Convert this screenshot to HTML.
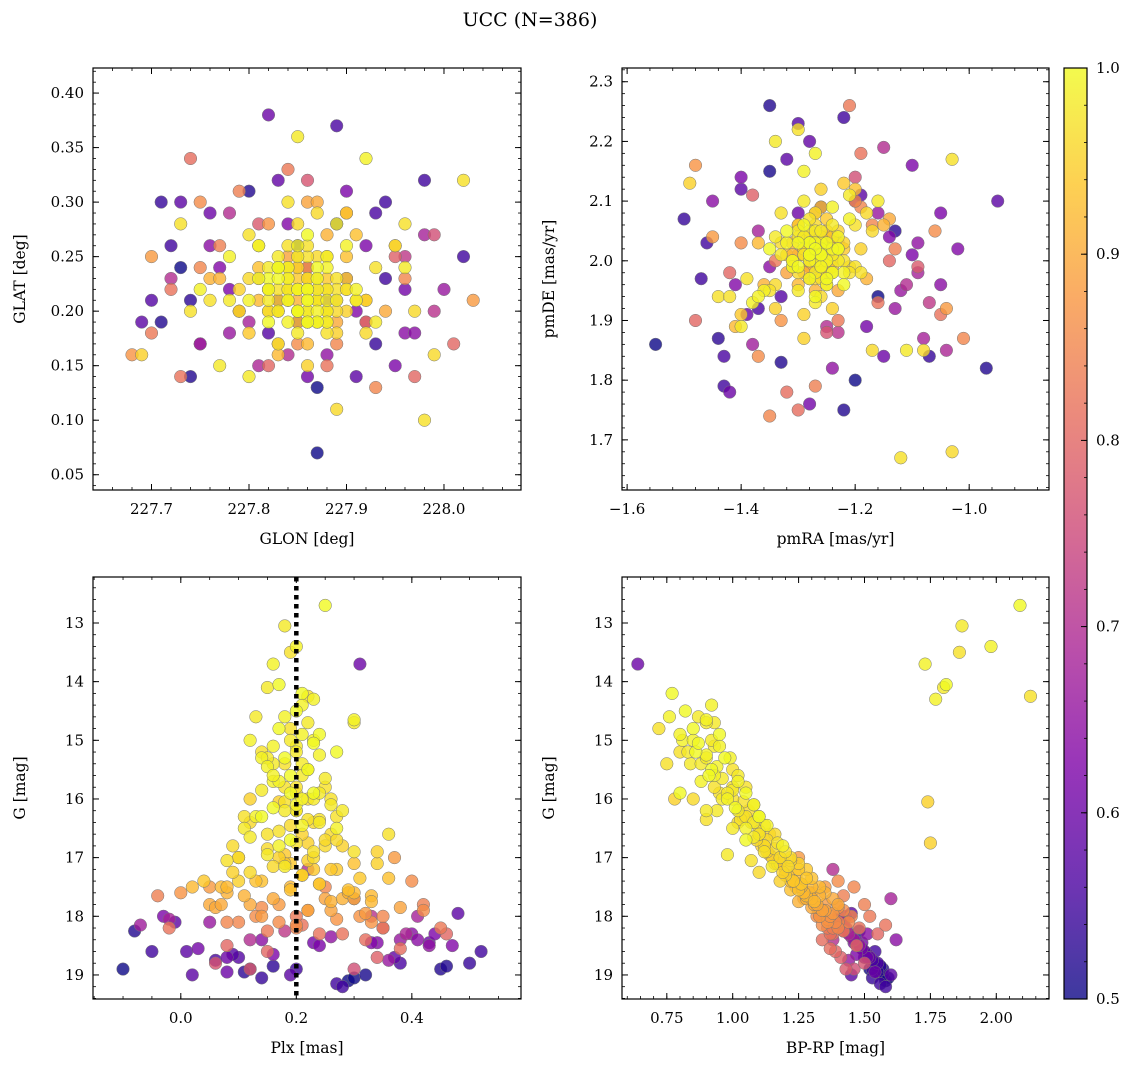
<!DOCTYPE html>
<html><head><meta charset="utf-8"><style>
html,body{margin:0;padding:0;background:#fff}
svg{display:block}
text{font-family:"DejaVu Serif","Liberation Serif",serif;fill:#000}
</style></head><body>
<svg id="chart" width="1136" height="1067" viewBox="0 0 1136 1067" xmlns="http://www.w3.org/2000/svg">
<text x="530" y="26" font-size="19" text-anchor="middle">UCC (N=386)</text>
</svg>
<script>
// star arrays: GLON, GLAT, pmRA, pmDE, Plx, G, BP-RP, membership probability
const glon=[227.86,227.84,227.88,227.82,227.90,227.87,227.83,227.89,227.80,227.86,227.85,227.91,227.84,227.82,227.88,227.87,227.85,227.81,227.93,227.86,227.84,227.89,227.83,227.87,227.78,227.90,227.85,227.88,227.82,227.86,227.84,227.91,227.87,227.83,227.89,227.85,227.80,227.88,227.86,227.84,227.92,227.82,227.87,227.85,227.79,227.90,227.83,227.88,227.86,227.84,227.95,227.81,227.87,227.76,227.89,227.85,227.73,227.97,227.98,227.89,227.69,228.02,227.85,227.77,227.96,227.80,227.92,227.74,227.99,227.86,
227.70,227.75,228.03,227.68,227.93,227.77,227.84,227.96,227.72,227.90,227.82,227.74,228.01,227.79,227.88,227.95,227.70,227.81,227.97,227.75,227.92,227.86,227.73,227.99,227.83,
227.87,227.98,227.71,227.73,227.82,227.89,227.74,227.90,227.70,228.02,227.93,227.84,227.78,227.96,227.76,227.91,227.80,227.86,227.94,227.72,227.88,227.83,227.99,227.78,227.92,227.75,227.85,227.96,
227.84,227.87,227.85,227.83,227.88,227.86,227.82,227.89,227.85,227.87,227.81,227.86,227.84,227.90,227.83,227.88,227.85,227.86,227.82,227.87,
227.85,227.89,227.84,227.86,227.80,227.88,227.85,227.83,227.87,227.86,227.91,227.84,227.86,227.82,227.88,227.85,227.87,227.83,227.86,227.89,
227.85,227.81,227.87,227.84,227.90,227.86,227.83,227.88,227.85,227.86,227.79,227.87,227.84,227.86,227.92,227.85,227.82,227.88,227.86,227.84,
227.87,227.85,227.83,227.89,227.86,227.81,227.88,227.85,227.87,227.84,227.86,227.90,227.83,227.85,227.88,227.82,227.86,227.87,227.84,227.85,
227.78,227.93,227.76,227.95,227.80,227.91,227.77,227.94,227.82,227.89,227.75,227.96,227.81,227.92,227.79,227.90,227.83,227.88,227.86,227.85,
227.72,227.95,227.80,228.00,227.69,227.87,227.77,227.93,227.84,227.74,227.98,227.82,227.90,227.71,227.86,227.79,227.96,227.75,227.89,227.83,227.92,227.78,227.85,227.97,227.73,227.88,227.81,227.94,227.76,227.91];
const glat=[0.22,0.24,0.21,0.20,0.26,0.19,0.25,0.23,0.21,0.27,0.18,0.22,0.30,0.23,0.25,0.21,0.20,0.26,0.24,0.19,0.22,0.28,0.17,0.24,0.21,0.20,0.26,0.22,0.19,0.25,0.23,0.21,0.29,0.24,0.18,0.22,0.27,0.20,0.23,0.26,0.21,0.24,0.19,0.28,0.22,0.25,0.20,0.23,0.17,0.24,0.26,0.21,0.30,0.23,0.19,0.25,0.28,0.20,0.10,0.11,0.16,0.32,0.36,0.15,0.28,0.14,0.34,0.20,0.16,0.15,
0.25,0.30,0.21,0.16,0.13,0.26,0.33,0.23,0.22,0.29,0.15,0.34,0.17,0.31,0.15,0.25,0.18,0.28,0.14,0.24,0.19,0.32,0.14,0.27,0.17,
0.07,0.32,0.19,0.30,0.38,0.37,0.14,0.31,0.21,0.25,0.17,0.28,0.18,0.22,0.26,0.14,0.19,0.24,0.30,0.23,0.16,0.21,0.20,0.29,0.26,0.17,0.19,0.18,
0.21,0.22,0.20,0.23,0.24,0.19,0.22,0.21,0.25,0.20,0.23,0.21,0.19,0.22,0.24,0.20,0.22,0.26,0.21,0.23,
0.20,0.22,0.24,0.21,0.23,0.19,0.22,0.20,0.25,0.22,0.21,0.23,0.20,0.22,0.18,0.24,0.21,0.22,0.23,0.20,
0.22,0.24,0.19,0.21,0.23,0.22,0.20,0.25,0.21,0.22,0.20,0.23,0.22,0.19,0.21,0.24,0.22,0.20,0.23,0.21,
0.22,0.20,0.24,0.21,0.22,0.23,0.19,0.22,0.21,0.25,0.20,0.22,0.21,0.23,0.22,0.20,0.24,0.21,0.22,0.19,
0.25,0.19,0.21,0.26,0.18,0.27,0.23,0.20,0.28,0.17,0.22,0.24,0.26,0.18,0.20,0.29,0.16,0.27,0.30,0.17,
0.26,0.15,0.31,0.22,0.19,0.13,0.24,0.29,0.16,0.21,0.27,0.18,0.23,0.30,0.14,0.20,0.25,0.17,0.28,0.32,0.19,0.22,0.26,0.18,0.24,0.21,0.15,0.23,0.29,0.20];
const pmra=[-1.26,-1.30,-1.22,-1.33,-1.25,-1.28,-1.24,-1.20,-1.31,-1.27,-1.29,-1.23,-1.26,-1.35,-1.21,-1.30,-1.25,-1.28,-1.19,-1.32,-1.27,-1.24,-1.29,-1.22,-1.34,-1.26,-1.31,-1.25,-1.28,-1.20,-1.36,-1.23,-1.27,-1.30,-1.24,-1.29,-1.21,-1.33,-1.26,-1.28,-1.19,-1.31,-1.25,-1.34,-1.22,-1.27,-1.29,-1.24,-1.32,-1.26,-1.18,-1.37,-1.23,-1.28,-1.30,-1.25,-1.44,-1.08,-1.12,-1.03,-1.49,-1.30,-1.34,-1.40,-1.03,-1.11,-1.27,-1.42,-1.17,-1.29,
-1.45,-1.37,-1.04,-1.48,-1.01,-1.13,-1.23,-1.35,-1.19,-1.06,-1.42,-1.30,-1.14,-1.27,-1.16,-1.38,-1.21,-1.09,-1.48,-1.17,-1.32,-1.25,-1.05,-1.20,-1.40,
-1.55,-1.43,-1.35,-0.95,-1.15,-1.43,-0.97,-1.10,-1.33,-1.22,-1.07,-1.41,-1.16,-1.28,-1.05,-1.19,-1.37,-1.13,-1.46,-1.25,-1.09,-1.30,-1.23,-1.11,-1.40,-1.08,-1.20,-1.35,
-1.27,-1.25,-1.29,-1.24,-1.28,-1.26,-1.30,-1.23,-1.27,-1.31,-1.25,-1.28,-1.26,-1.22,-1.29,-1.27,-1.24,-1.30,-1.26,-1.28,
-1.32,-1.25,-1.27,-1.23,-1.29,-1.26,-1.28,-1.24,-1.30,-1.27,-1.25,-1.29,-1.26,-1.21,-1.28,-1.27,-1.33,-1.25,-1.26,-1.29,
-1.24,-1.28,-1.27,-1.30,-1.25,-1.26,-1.22,-1.28,-1.27,-1.31,-1.26,-1.24,-1.29,-1.27,-1.25,-1.30,-1.28,-1.23,-1.26,-1.27,
-1.29,-1.25,-1.28,-1.26,-1.34,-1.24,-1.27,-1.30,-1.25,-1.28,-1.26,-1.27,-1.23,-1.29,-1.26,-1.31,-1.25,-1.28,-1.27,-1.24,
-1.38,-1.16,-1.35,-1.18,-1.40,-1.20,-1.36,-1.14,-1.33,-1.19,-1.37,-1.21,-1.39,-1.17,-1.34,-1.22,-1.41,-1.15,-1.32,-1.20,
-1.47,-1.05,-1.33,-1.12,-1.40,-1.20,-1.02,-1.37,-1.15,-1.44,-1.09,-1.30,-1.24,-1.50,-1.18,-1.35,-1.07,-1.42,-1.13,-1.28,-1.38,-1.10,-1.22,-1.45,-1.16,-1.32,-1.04,-1.26,-1.39,-1.14];
const pmde=[2.01,2.05,1.98,2.08,1.96,2.03,2.06,1.99,2.00,1.94,2.10,2.04,1.97,2.02,2.07,1.95,2.03,2.00,1.98,2.05,1.93,2.09,2.01,1.96,2.04,2.12,1.99,2.02,1.97,2.06,1.95,2.00,2.08,2.03,1.92,2.15,1.98,2.01,1.94,2.05,2.02,1.99,2.07,1.96,2.03,2.00,1.91,2.04,2.01,2.09,1.97,2.03,1.95,2.00,2.06,1.98,1.94,1.85,1.67,1.68,2.13,2.22,2.20,1.89,2.17,1.85,2.18,1.94,1.85,1.87,
2.04,1.84,1.92,2.16,1.87,2.02,1.90,1.74,2.18,2.05,1.98,1.75,2.00,1.79,1.93,2.11,2.26,1.99,1.90,2.06,1.78,1.88,1.91,2.14,2.03,
1.86,1.79,2.26,2.10,1.84,1.84,1.82,2.16,1.94,2.24,1.84,1.96,2.08,1.76,1.96,2.11,2.05,1.92,2.03,1.89,2.03,2.08,1.88,1.96,2.14,1.87,2.10,1.99,
2.02,2.00,2.04,1.98,2.01,2.03,1.99,2.02,2.05,2.00,1.97,2.03,2.01,2.00,2.06,1.98,2.02,2.04,1.99,2.01,
2.03,1.96,2.00,2.02,2.04,1.99,2.07,2.01,1.98,2.03,2.00,2.02,2.05,1.99,2.01,1.97,2.03,2.00,2.04,2.02,
1.98,2.01,2.03,2.06,2.00,1.99,2.02,2.04,1.95,2.01,2.03,2.00,1.98,2.02,2.05,2.01,1.99,2.03,2.00,2.08,
2.01,2.04,1.97,2.02,2.00,2.03,2.01,1.96,2.04,1.99,2.02,2.00,2.05,2.01,1.98,2.03,2.00,2.02,2.06,1.99,
1.93,2.10,1.95,2.08,1.91,2.12,1.96,2.07,1.90,2.09,1.94,2.11,1.97,2.05,1.92,2.13,1.89,2.06,1.98,2.10,
1.97,2.08,1.83,1.95,2.12,1.80,2.02,1.92,2.19,1.87,1.98,2.23,1.82,2.07,1.89,2.15,1.93,1.78,2.05,2.20,1.86,2.01,1.75,2.10,1.94,2.17,1.85,2.09,1.91,2.04];
const plx=[0.25,0.18,0.20,0.19,0.16,0.17,0.15,0.22,0.23,0.21,0.13,0.30,0.19,0.24,0.12,0.20,0.27,0.14,0.18,0.22,0.21,0.16,0.25,0.19,0.23,0.17,0.20,0.28,0.14,0.24,0.21,0.11,0.26,0.19,0.22,0.17,0.30,0.15,0.23,0.08,0.34,0.18,0.27,0.12,0.21,0.36,0.10,0.24,0.19,0.29,0.08,0.33,0.16,0.26,0.05,0.38,0.14,0.22,0.20,0.23,0.12,0.18,0.30,0.20,0.27,0.16,0.21,0.15,0.25,0.17,
0.05,0.42,0.37,0.00,0.35,-0.04,0.45,0.10,0.28,0.40,0.08,0.32,0.15,0.42,-0.02,0.34,0.20,0.12,0.46,0.25,0.38,0.06,0.21,0.30,0.14,
-0.10,0.52,-0.08,0.48,0.31,0.38,0.45,-0.03,0.10,0.27,0.14,0.34,0.05,0.23,0.40,0.19,-0.02,0.36,0.28,0.12,0.43,0.08,0.33,0.22,0.16,0.30,0.02,0.41,
0.20,0.18,0.22,0.17,0.21,0.19,0.23,0.16,0.20,0.24,0.18,0.21,0.15,0.22,0.19,0.25,0.17,0.20,0.14,0.23,
0.21,0.18,0.26,0.16,0.20,0.13,0.22,0.24,0.19,0.27,0.17,0.21,0.12,0.25,0.20,0.28,0.15,0.23,0.18,0.10,
0.22,0.30,0.16,0.26,0.09,0.21,0.31,0.14,0.24,0.07,0.19,0.29,0.11,0.25,0.33,0.17,0.06,0.22,0.32,0.13,
0.27,0.08,0.20,0.35,0.15,0.24,0.04,0.30,0.12,0.26,0.18,0.36,0.10,0.23,0.02,0.28,0.14,0.33,0.09,0.21,
0.16,0.24,0.11,0.27,0.19,0.13,0.29,0.07,0.31,0.20,0.23,0.15,0.26,0.12,0.34,0.18,0.08,0.30,0.22,0.17,
-0.05,0.44,0.12,0.38,-0.01,0.29,0.47,0.06,0.35,0.16,0.41,0.09,0.26,0.50,0.03,0.32,0.18,0.43,0.11,0.37,-0.07,0.24,0.46,0.14,0.30,0.01,0.39,0.20,0.08,0.33];
const gmag=[12.7,13.05,13.4,13.5,13.7,14.05,14.1,14.25,14.3,14.2,14.6,14.65,14.8,14.9,15.0,15.1,15.2,15.3,15.4,15.5,15.6,15.7,15.8,15.9,16.0,16.05,16.1,16.2,16.3,16.35,16.45,16.5,16.6,16.7,16.75,16.8,16.9,16.95,17.0,17.05,17.1,17.15,17.2,17.25,17.3,17.35,17.4,17.45,17.5,17.55,17.6,17.65,17.7,17.75,17.8,17.85,15.2,16.0,15.9,16.4,16.0,15.8,14.7,16.2,16.3,15.4,14.4,16.6,16.8,17.0,
17.5,17.9,17.0,17.6,18.0,17.65,18.2,18.1,18.3,17.4,18.5,18.4,18.6,17.8,18.2,18.7,18.0,18.9,18.3,17.5,18.55,18.8,18.15,18.9,17.85,
18.9,18.6,18.25,17.95,13.7,18.8,18.9,18.0,18.7,19.15,19.05,18.45,18.1,18.45,18.3,19.0,18.05,18.75,19.2,18.4,18.5,18.95,18.0,17.2,18.65,17.7,19.0,18.4,
14.5,14.6,14.7,14.8,14.9,15.0,15.05,15.1,15.2,15.25,15.3,15.4,15.45,15.5,15.6,15.65,15.7,15.8,15.85,15.9,
16.0,16.05,16.1,16.15,16.2,16.3,16.35,16.4,16.45,16.5,16.55,16.6,16.65,16.7,16.75,16.8,16.85,16.9,16.95,17.0,
17.05,17.1,17.15,17.2,17.25,17.3,17.35,17.4,17.45,17.5,17.55,17.6,17.65,17.7,17.75,17.8,17.85,17.9,17.95,18.0,
18.05,18.1,18.15,18.2,18.25,18.3,17.4,17.6,17.8,17.9,16.2,16.6,17.0,17.2,17.5,17.7,18.0,18.1,16.8,17.3,
15.6,15.9,16.3,16.7,17.1,17.4,17.6,17.8,18.0,18.2,15.0,15.3,16.0,16.4,16.9,17.1,17.5,17.7,17.9,18.1,
18.6,18.3,18.9,18.4,18.1,19.1,18.5,18.75,18.2,18.85,18.0,18.65,18.35,18.8,18.55,19.0,18.25,18.45,18.95,18.7,18.15,18.5,18.85,18.4,19.05,18.6,18.3,18.9,18.7,18.45];
const bprp=[2.09,1.87,1.98,1.86,1.73,1.81,1.80,2.13,1.77,0.77,0.87,0.90,0.72,0.95,0.81,0.93,0.86,0.99,0.75,0.92,1.02,0.88,1.05,0.80,0.96,1.74,1.08,0.94,1.10,0.90,1.13,1.00,1.16,1.05,1.75,1.19,1.12,0.98,1.22,1.07,1.25,1.15,1.28,1.10,1.20,1.30,1.18,1.26,1.33,1.22,1.35,1.28,1.38,1.25,1.40,1.32,0.80,0.85,0.95,1.02,0.78,1.00,0.93,0.90,1.04,0.84,0.92,1.10,1.12,1.18,
1.35,1.42,1.25,1.30,1.45,1.42,1.36,1.44,1.38,1.40,1.47,1.34,1.39,1.50,1.48,1.41,1.52,1.43,1.55,1.46,1.37,1.50,1.58,1.46,1.40,
1.52,1.54,1.48,1.45,0.64,1.55,1.57,1.43,1.50,1.56,1.53,1.46,1.42,1.49,1.51,1.60,1.40,1.44,1.58,1.38,1.48,1.54,1.33,1.38,1.47,1.60,1.45,1.62,
0.82,0.76,0.90,0.85,0.80,0.92,0.87,0.95,0.83,0.90,0.97,0.88,0.94,1.00,0.91,0.96,1.02,0.93,1.00,1.05,
0.98,1.04,1.08,1.01,1.06,1.10,1.03,1.08,1.12,1.05,1.10,1.14,1.08,1.13,1.17,1.11,1.16,1.20,1.14,1.18,
1.22,1.16,1.21,1.25,1.19,1.24,1.28,1.22,1.26,1.30,1.25,1.29,1.33,1.27,1.31,1.35,1.30,1.34,1.38,1.32,
1.36,1.40,1.34,1.38,1.42,1.37,1.23,1.27,1.31,1.35,1.02,1.10,1.15,1.20,1.24,1.28,1.33,1.36,1.12,1.21,
0.93,0.98,1.05,1.09,1.17,1.23,1.29,1.32,1.37,1.40,0.85,0.90,1.00,1.07,1.13,1.18,1.26,1.30,1.34,1.39,
1.50,1.44,1.55,1.46,1.41,1.58,1.48,1.53,1.43,1.56,1.40,1.51,1.45,1.54,1.49,1.57,1.42,1.47,1.55,1.52,1.42,1.48,1.56,1.46,1.59,1.50,1.44,1.53,1.51,1.47];
const prob=[1.0,0.98,0.99,0.97,0.99,1.0,0.98,0.97,0.99,1.0,0.98,0.99,0.97,1.0,0.99,0.98,1.0,0.99,0.97,1.0,0.98,0.99,0.97,1.0,0.98,0.95,0.99,0.98,1.0,0.97,0.99,0.98,0.96,1.0,0.95,0.99,0.97,0.98,0.96,0.97,0.95,0.98,0.94,0.96,0.95,0.93,0.95,0.94,0.92,0.93,0.91,0.92,0.90,0.91,0.90,0.89,0.97,0.96,0.97,0.96,0.95,0.97,0.98,0.98,0.97,0.98,0.99,0.97,0.96,0.95,
0.88,0.86,0.88,0.87,0.85,0.84,0.83,0.85,0.82,0.86,0.80,0.81,0.80,0.84,0.82,0.79,0.83,0.78,0.80,0.85,0.81,0.77,0.82,0.76,0.86,
0.5,0.55,0.52,0.58,0.60,0.56,0.52,0.62,0.57,0.55,0.54,0.63,0.66,0.61,0.64,0.58,0.68,0.66,0.55,0.70,0.65,0.60,0.71,0.70,0.62,0.68,0.58,0.64,
1.0,0.99,0.98,1.0,0.99,0.98,1.0,0.99,0.98,0.99,1.0,0.98,0.99,0.97,1.0,0.98,0.99,0.97,0.98,1.0,
0.99,0.97,0.98,1.0,0.96,0.99,0.97,0.98,0.96,0.99,0.97,0.95,0.98,0.96,0.97,0.95,0.96,0.97,0.94,0.96,
0.95,0.93,0.96,0.94,0.95,0.92,0.94,0.93,0.91,0.92,0.93,0.90,0.91,0.89,0.92,0.88,0.90,0.87,0.88,0.86,
0.87,0.85,0.86,0.84,0.83,0.82,0.94,0.92,0.90,0.89,0.98,0.97,0.95,0.94,0.92,0.91,0.88,0.87,0.96,0.93,
0.99,0.98,0.97,0.96,0.94,0.93,0.91,0.90,0.87,0.85,0.99,0.98,0.97,0.96,0.95,0.94,0.92,0.91,0.89,0.86,
0.55,0.62,0.52,0.66,0.58,0.50,0.63,0.56,0.70,0.53,0.68,0.57,0.65,0.54,0.61,0.51,0.72,0.60,0.53,0.59,0.67,0.62,0.52,0.64,0.50,0.58,0.69,0.55,0.60,0.63];
const cbTicks=[0.5,0.6,0.7,0.8,0.9,1.0];

const NS='http://www.w3.org/2000/svg';
const svg=document.getElementById('chart');
function mk(tag,attrs,parent){const e=document.createElementNS(NS,tag);for(const k in attrs)e.setAttribute(k,attrs[k]);(parent||svg).appendChild(e);return e;}
const stops=[[13,8,135],[76,2,161],[126,3,168],[169,35,149],[204,71,120],[230,108,92],[248,149,64],[253,197,39],[240,249,33]];
function plasma(v){let t=(v-0.5)/0.5;t=Math.max(0,Math.min(1,t));const f=t*8;const i=Math.min(7,Math.floor(f));const r=f-i;const a=stops[i],b=stops[i+1];
return 'rgb('+[0,1,2].map(k=>Math.round(a[k]+(b[k]-a[k])*r)).join(',')+')';}
function fmt(v,d){return (v<0?'−':'')+Math.abs(v).toFixed(d);}

const panels=[
 {name:'glon-glat',x0:93,x1:521,y0:68,y1:490,xd:[227.640,228.079],yd:[0.036,0.423],xs:glon,ys:glat,xt:[227.7,227.8,227.9,228.0],xmin:0.02,xdp:1,yt:[0.05,0.10,0.15,0.20,0.25,0.30,0.35,0.40],ymin:0.01,ydp:2,xl:'GLON [deg]',yl:'GLAT [deg]',inv:false},
 {name:'pmra-pmde',x0:622,x1:1049,y0:68,y1:490,xd:[-1.609,-0.86],yd:[1.616,2.323],xs:pmra,ys:pmde,xt:[-1.6,-1.4,-1.2,-1.0],xmin:0.04,xdp:1,yt:[1.7,1.8,1.9,2.0,2.1,2.2,2.3],ymin:0.02,ydp:1,xl:'pmRA [mas/yr]',yl:'pmDE [mas/yr]',inv:false},
 {name:'plx-g',x0:93,x1:521,y0:577,y1:999,xd:[-0.152,0.589],yd:[12.216,19.41],xs:plx,ys:gmag,xt:[0.0,0.2,0.4],xmin:0.05,xdp:1,yt:[13,14,15,16,17,18,19],ymin:0.2,ydp:0,xl:'Plx [mas]',yl:'G [mag]',inv:true},
 {name:'bprp-g',x0:622,x1:1049,y0:577,y1:999,xd:[0.58,2.20],yd:[12.216,19.41],xs:bprp,ys:gmag,xt:[0.75,1.0,1.25,1.5,1.75,2.0],xmin:0.05,xdp:2,yt:[13,14,15,16,17,18,19],ymin:0.2,ydp:0,xl:'BP-RP [mag]',yl:'G [mag]',inv:true}
];
const order=prob.map((p,i)=>i).sort((a,b)=>prob[a]-prob[b]);
panels.forEach(P=>{
 const g=mk('g',{});
 
 
 const sx=v=>P.x0+(v-P.xd[0])/(P.xd[1]-P.xd[0])*(P.x1-P.x0);
 const sy=v=>P.inv? P.y0+(v-P.yd[0])/(P.yd[1]-P.yd[0])*(P.y1-P.y0) : P.y1-(v-P.yd[0])/(P.yd[1]-P.yd[0])*(P.y1-P.y0);
 const clip='c-'+P.name;
 const cp=mk('clipPath',{id:clip},g);mk('rect',{x:P.x0,y:P.y0,width:P.x1-P.x0,height:P.y1-P.y0},cp);
 const pg=mk('g',{'clip-path':'url(#'+clip+')'},g);
 order.forEach(i=>{
  const c=mk('circle',{cx:sx(P.xs[i]).toFixed(1),cy:sy(P.ys[i]).toFixed(1),r:6.3,fill:plasma(prob[i]),'fill-opacity':0.8,stroke:'#777','stroke-width':0.5},pg);
  
  
 });
 if(P.name==='plx-g'){
  const l=mk('line',{x1:sx(0.2),x2:sx(0.2),y1:P.y0,y2:P.y1,stroke:'#000','stroke-width':4.5,'stroke-dasharray':'4.5 4.5'},g);
  
  
 }
 mk('rect',{x:P.x0,y:P.y0,width:P.x1-P.x0,height:P.y1-P.y0,fill:'none',stroke:'#000','stroke-width':1.2},g);
 const xa=Math.min(P.xd[0],P.xd[1]),xb=Math.max(P.xd[0],P.xd[1]);
 for(let v=Math.ceil(xa/P.xmin-1e-6)*P.xmin;v<=xb;v+=P.xmin){const x=sx(v);
  mk('line',{x1:x,x2:x,y1:P.y1,y2:P.y1-3,stroke:'#000','stroke-width':0.8},g);mk('line',{x1:x,x2:x,y1:P.y0,y2:P.y0+3,stroke:'#000','stroke-width':0.8},g);}
 for(let v=Math.ceil(P.yd[0]/P.ymin-1e-6)*P.ymin;v<=P.yd[1];v+=P.ymin){const y=sy(v);
  mk('line',{x1:P.x0,x2:P.x0+3,y1:y,y2:y,stroke:'#000','stroke-width':0.8},g);mk('line',{x1:P.x1,x2:P.x1-3,y1:y,y2:y,stroke:'#000','stroke-width':0.8},g);}
 P.xt.forEach(v=>{const x=sx(v);
  mk('line',{x1:x,x2:x,y1:P.y1,y2:P.y1-6,stroke:'#000','stroke-width':1},g);mk('line',{x1:x,x2:x,y1:P.y0,y2:P.y0+6,stroke:'#000','stroke-width':1},g);
  const t=mk('text',{x:x,y:P.y1+24,'font-size':15,'text-anchor':'middle'},g);t.textContent=fmt(v,P.xdp);
  
  });
 P.yt.forEach(v=>{const y=sy(v);
  mk('line',{x1:P.x0,x2:P.x0+6,y1:y,y2:y,stroke:'#000','stroke-width':1},g);mk('line',{x1:P.x1,x2:P.x1-6,y1:y,y2:y,stroke:'#000','stroke-width':1},g);
  const t=mk('text',{x:P.x0-9,y:y+5,'font-size':15,'text-anchor':'end'},g);t.textContent=fmt(v,P.ydp);
  
  });
 const xl=mk('text',{x:(P.x0+P.x1)/2,y:P.y1+54,'font-size':15.5,'text-anchor':'middle'},g);xl.textContent=P.xl;
 
 
 const yx=P.x0-68,yy=(P.y0+P.y1)/2;
 const yl=mk('text',{x:yx,y:yy,'font-size':15.5,'text-anchor':'middle',transform:'rotate(-90 '+yx+' '+yy+')'},g);yl.textContent=P.yl;
 
 
});
const cb=mk('g',{});


const defs=mk('defs',{},cb);const lg=mk('linearGradient',{id:'cbg',x1:0,y1:1,x2:0,y2:0},defs);
stops.forEach((s,i)=>mk('stop',{offset:i/8,'stop-color':'rgb('+s.join(',')+')'},lg));
const cx0=1064,cx1=1087,cy0=68,cy1=999;
mk('rect',{x:cx0,y:cy0,width:cx1-cx0,height:cy1-cy0,fill:'url(#cbg)','fill-opacity':0.8},cb);
mk('rect',{x:cx0,y:cy0,width:cx1-cx0,height:cy1-cy0,fill:'none',stroke:'#000','stroke-width':1.2},cb);
const cby=v=>cy1-(v-0.5)/0.5*(cy1-cy0);
for(let v=0.5;v<=1.0001;v+=0.02){mk('line',{x1:cx1,x2:cx1-3,y1:cby(v),y2:cby(v),stroke:'#000','stroke-width':0.8},cb);}
cbTicks.forEach(v=>{const y=cby(v);mk('line',{x1:cx1,x2:cx1-6,y1:y,y2:y,stroke:'#000','stroke-width':1},cb);
 const t=mk('text',{x:cx1+9,y:y+5,'font-size':15},cb);t.textContent=v.toFixed(1);
 
 });
</script>
</body></html>
